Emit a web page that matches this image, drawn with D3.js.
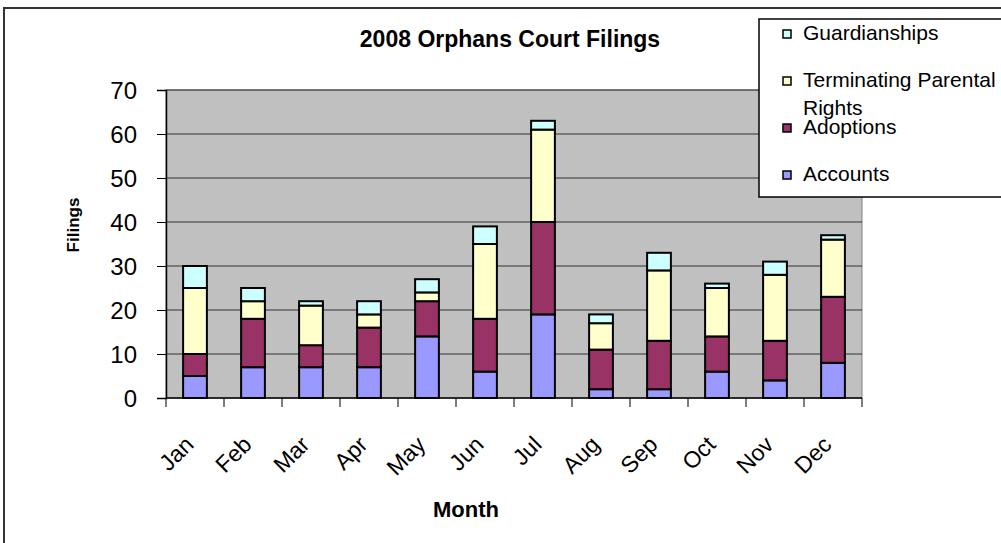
<!DOCTYPE html>
<html>
<head>
<meta charset="utf-8">
<script src="https://cdn.jsdelivr.net/npm/d3@7"></script>
<style>
  body { margin: 0; background: #fff; }
  text { font-family: Arial, "Liberation Sans", sans-serif; fill: #000; }
</style>
</head>
<body>
<div id="chart"></div>
<script>
// chart values
const months = ['Jan', 'Feb', 'Mar', 'Apr', 'May', 'Jun', 'Jul', 'Aug', 'Sep', 'Oct', 'Nov', 'Dec'];
const accounts = [5, 7, 7, 7, 14, 6, 19, 2, 2, 6, 4, 8];
const adoptions = [5, 11, 5, 9, 8, 12, 21, 9, 11, 8, 9, 15];
const terminating = [15, 4, 9, 3, 2, 17, 21, 6, 16, 11, 15, 13];
const guardianships = [5, 3, 1, 3, 3, 4, 2, 2, 4, 1, 3, 1];
const seriesNames = ['Accounts', 'Adoptions', 'Terminating Parental Rights', 'Guardianships'];
const yTicks = [0, 10, 20, 30, 40, 50, 60, 70];

const colors = {
    'Accounts': '#9999ff',
    'Adoptions': '#993366',
    'Terminating Parental Rights': '#ffffcc',
    'Guardianships': '#ccffff'
};

const width = 1001, height = 543;
const plot = { left: 166, right: 862, top: 90, bottom: 398 };

const svg = d3.select('#chart').append('svg')
    .attr('width', width)
    .attr('height', height);

// outer chart frame
svg.append('rect')
    .attr('x', 4).attr('y', 8)
    .attr('width', 1100).attr('height', 600)
    .attr('fill', '#fff')
    .attr('stroke', '#333')
    .attr('stroke-width', 2);

const rows = months.map((m, i) => ({
    month: m,
    'Accounts': accounts[i],
    'Adoptions': adoptions[i],
    'Terminating Parental Rights': terminating[i],
    'Guardianships': guardianships[i]
}));

const x = d3.scaleBand()
    .domain(months)
    .range([plot.left, plot.right])
    .paddingInner(0.59)
    .paddingOuter(0.295);

const xEdges = d3.scaleLinear().domain([0, months.length]).range([plot.left, plot.right]);

const y = d3.scaleLinear().domain([0, 70]).range([plot.bottom, plot.top]);

// plot area
svg.append('rect')
    .attr('x', plot.left).attr('y', plot.top)
    .attr('width', plot.right - plot.left)
    .attr('height', plot.bottom - plot.top)
    .attr('fill', '#c0c0c0')
    .attr('stroke', '#808080')
    .attr('stroke-width', 1);

// gridlines
svg.append('g').selectAll('line')
    .data(yTicks.filter(d => d > 0))
    .enter().append('line')
    .attr('x1', plot.left).attr('x2', plot.right)
    .attr('y1', d => y(d)).attr('y2', d => y(d))
    .attr('stroke', '#333')
    .attr('stroke-width', 1.2);

// stacked bars
const stacked = d3.stack().keys(seriesNames)(rows);

svg.append('g').selectAll('g')
    .data(stacked)
    .enter().append('g')
    .attr('fill', d => colors[d.key])
    .selectAll('rect')
    .data(d => d)
    .enter().append('rect')
    .attr('x', d => x(d.data.month))
    .attr('y', d => y(d[1]))
    .attr('width', x.bandwidth())
    .attr('height', d => y(d[0]) - y(d[1]))
    .attr('stroke', '#000')
    .attr('stroke-width', 2);

// y axis
const yAxis = svg.append('g')
    .attr('transform', `translate(${plot.left},0)`)
    .call(d3.axisLeft(y).tickValues(yTicks).tickSize(9).tickPadding(20));
yAxis.select('.domain').attr('stroke', '#000').attr('stroke-width', 1.5);
yAxis.selectAll('.tick line').attr('stroke', '#000');
yAxis.selectAll('text')
    .style('font-family', 'Arial, "Liberation Sans", sans-serif')
    .style('font-size', '24px')
    .attr('dy', '0.36em');

// x axis line and ticks at band edges
svg.append('line')
    .attr('x1', plot.left).attr('x2', plot.right)
    .attr('y1', plot.bottom).attr('y2', plot.bottom)
    .attr('stroke', '#000').attr('stroke-width', 1.5);

svg.append('g').selectAll('line')
    .data(d3.range(months.length + 1))
    .enter().append('line')
    .attr('x1', d => xEdges(d)).attr('x2', d => xEdges(d))
    .attr('y1', plot.bottom).attr('y2', plot.bottom + 9)
    .attr('stroke', '#000');

svg.append('g').selectAll('text')
    .data(months)
    .enter().append('text')
    .attr('transform', d => `translate(${x(d) + x.bandwidth() / 2},446) rotate(-45)`)
    .attr('text-anchor', 'end')
    .style('font-size', '23px')
    .text(d => d);

// titles
svg.append('text')
    .attr('x', 510).attr('y', 47)
    .attr('text-anchor', 'middle')
    .style('font-size', '23px')
    .style('font-weight', 'bold')
    .text('2008 Orphans Court Filings');

svg.append('text')
    .attr('x', 466).attr('y', 517)
    .attr('text-anchor', 'middle')
    .style('font-size', '22px')
    .style('font-weight', 'bold')
    .text('Month');

svg.append('text')
    .attr('transform', 'translate(79,225) rotate(-90)')
    .attr('text-anchor', 'middle')
    .style('font-size', '17px')
    .style('font-weight', 'bold')
    .text('Filings');

// legend
const legend = svg.append('g');
legend.append('rect')
    .attr('x', 759).attr('y', 19)
    .attr('width', 300).attr('height', 178)
    .attr('fill', '#fff')
    .attr('stroke', '#000')
    .attr('stroke-width', 1.5);

const legendOrder = seriesNames.slice().reverse();
const item = legend.selectAll('g.item')
    .data(legendOrder)
    .enter().append('g')
    .attr('class', 'item')
    .attr('transform', (d, i) => `translate(0,${34 + i * 47})`);

item.append('rect')
    .attr('x', 783).attr('y', -4)
    .attr('width', 8).attr('height', 8)
    .attr('fill', d => colors[d])
    .attr('stroke', '#000')
    .attr('stroke-width', 1.5);

item.append('text')
    .attr('x', 803).attr('y', 6)
    .style('font-size', '21px')
    .each(function (d) {
        const words = d === 'Terminating Parental Rights'
            ? ['Terminating Parental', 'Rights'] : [d];
        d3.select(this).selectAll('tspan')
            .data(words)
            .enter().append('tspan')
            .attr('x', 803)
            .attr('dy', (w, j) => j === 0 ? 0 : 28)
            .text(w => w);
    });
</script>
</body>
</html>
